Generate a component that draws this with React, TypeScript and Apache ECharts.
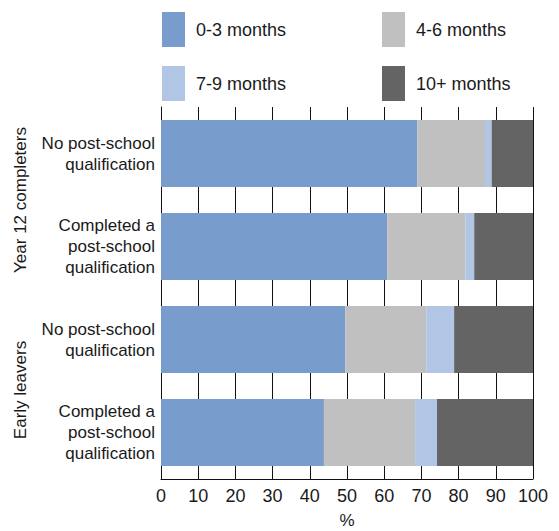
import React, { useEffect, useRef } from "react";
import * as echarts from "echarts";

const categories = [
  "No post-school\nqualification",
  "Completed a\npost-school\nqualification",
  "No post-school\nqualification",
  "Completed a\npost-school\nqualification",
];
const groupLabels = ["Year 12 completers", "Early leavers"];
const seriesNames = ["0-3 months", "4-6 months", "7-9 months", "10+ months"];
const months0to3 = [68.9, 60.8, 49.5, 43.8];
const months4to6 = [18.2, 21.0, 21.8, 24.5];
const months7to9 = [1.8, 2.4, 7.5, 5.9];
const months10plus = [11.1, 15.8, 21.2, 25.8];
const colors = ["#789CCB", "#C0C0C0", "#B0C6E4", "#646464"];
const xTicks = { min: 0, max: 100, interval: 10 };
const xName = "%";

const FONT = "'Liberation Sans', Arial, sans-serif";
const TXT = "#1a1a1a";

export default function App() {
  const ref = useRef<HTMLDivElement>(null);
  useEffect(() => {
    if (!ref.current) return;
    const chart = echarts.init(ref.current, null, { renderer: "svg" });
    const values = [months0to3, months4to6, months7to9, months10plus];
    const legendPos = [
      { left: 162, top: 12 },
      { left: 382, top: 12 },
      { left: 162, top: 66 },
      { left: 382, top: 66 },
    ];
    chart.setOption({
      animation: false,
      textStyle: { fontFamily: FONT },
      legend: seriesNames.map((n, i) => ({
        data: [n],
        left: legendPos[i].left,
        top: legendPos[i].top,
        padding: 0,
        icon: "rect",
        itemWidth: 23,
        itemHeight: 35,
        selectedMode: false,
        textStyle: {
          fontFamily: FONT,
          fontSize: 18,
          color: TXT,
          padding: [0, 0, 0, 6],
        },
      })),
      grid: {
        left: 161,
        right: 26,
        top: 107,
        bottom: 52,
        containLabel: false,
        outerBoundsMode: "none",
      },
      xAxis: {
        type: "value",
        min: xTicks.min,
        max: xTicks.max,
        interval: xTicks.interval,
        name: xName,
        nameLocation: "middle",
        nameGap: 33,
        nameTextStyle: { fontFamily: FONT, fontSize: 17, color: TXT, lineHeight: 17 },
        axisLine: { show: true, lineStyle: { color: "#111", width: 1 } },
        axisTick: { show: false },
        axisLabel: { fontFamily: FONT, fontSize: 18, color: TXT, margin: 8 },
        splitLine: { show: true, lineStyle: { color: "#111", width: 1 } },
      },
      yAxis: {
        type: "category",
        inverse: true,
        data: categories,
        axisLine: { show: true, lineStyle: { color: "#111", width: 1 } },
        axisTick: { show: false },
        splitLine: { show: false },
        axisLabel: {
          fontFamily: FONT,
          fontSize: 17,
          color: TXT,
          align: "right",
          margin: 6,
          lineHeight: 21,
        },
      },
      series: seriesNames.map((n, i) => ({
        name: n,
        type: "bar",
        stack: "total",
        barCategoryGap: "28%",
        data: values[i],
        itemStyle: { color: colors[i] },
      })),
      graphic: [
        {
          type: "text",
          x: 20,
          y: 200,
          rotation: Math.PI / 2,
          style: {
            text: groupLabels[0],
            fontFamily: FONT,
            fontSize: 17,
            fill: TXT,
            align: "center",
            verticalAlign: "middle",
          },
        },
        {
          type: "text",
          x: 20,
          y: 390,
          rotation: Math.PI / 2,
          style: {
            text: groupLabels[1],
            fontFamily: FONT,
            fontSize: 17,
            fill: TXT,
            align: "center",
            verticalAlign: "middle",
          },
        },
      ],
    });
    return () => chart.dispose();
  }, []);
  return <div ref={ref} style={{ width: 559, height: 531, position: "absolute", left: 0, top: 0 }} />;
}
